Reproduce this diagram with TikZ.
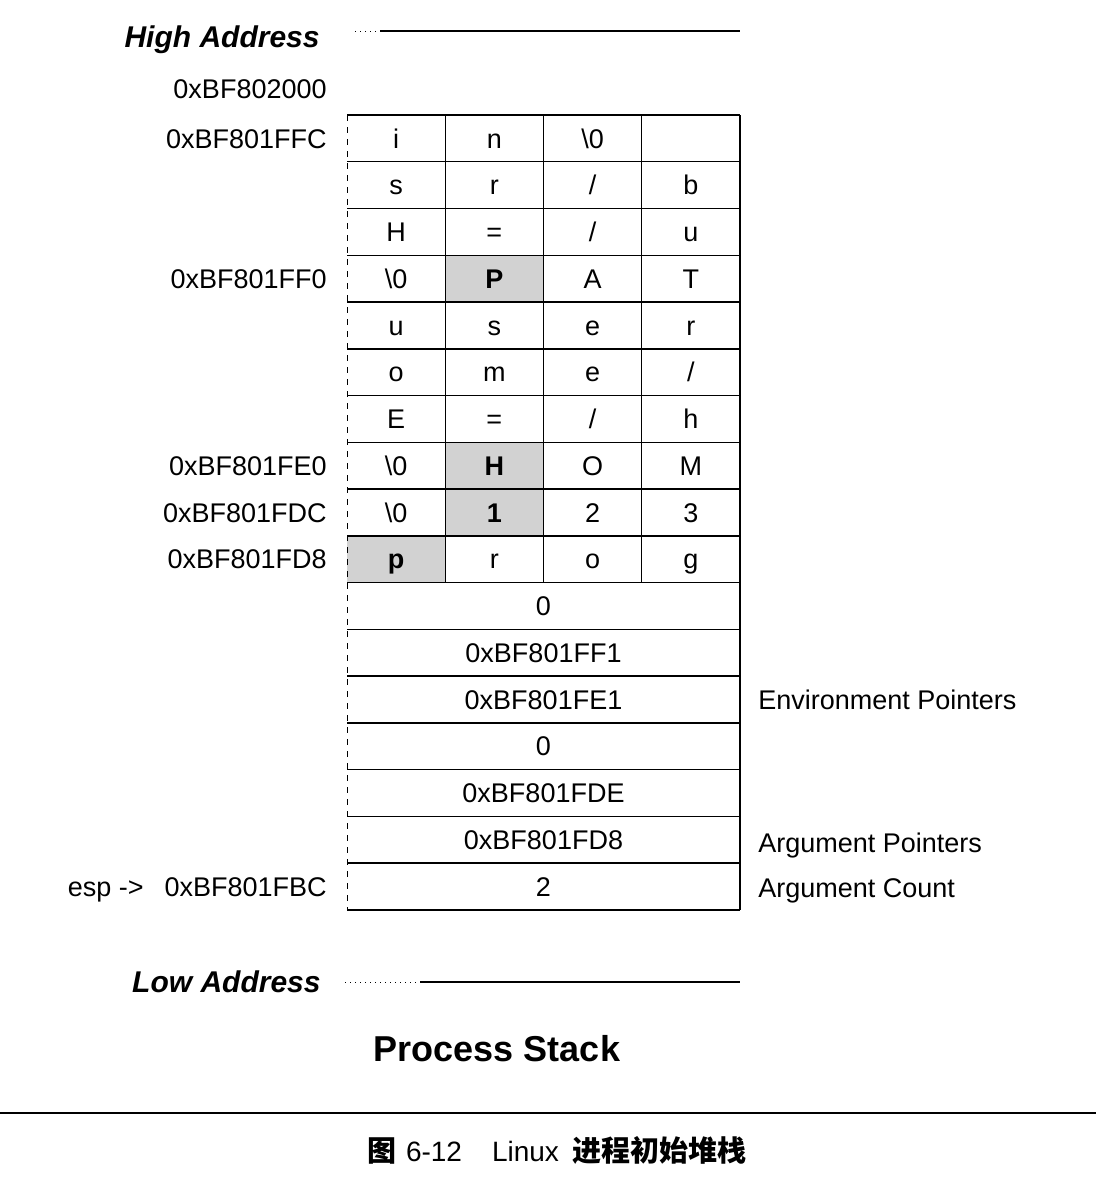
\documentclass[tikz,border=0pt]{standalone}
\usepackage{fontspec}
\setmainfont{Liberation Sans}
\newfontfamily\cjkfont{Noto Sans CJK SC}
\usetikzlibrary{calc,positioning}

\newcommand{\nul}{\textbackslash 0}
\newcommand{\cw}{98.25}
\newcommand{\rh}{46.76}

\begin{document}
\begin{tikzpicture}[x=0.5pt,y=-0.5pt,
    txt/.style={font=\fontsize{13.5}{16}\selectfont,inner sep=0pt,
                text height=9.7pt,text depth=0pt},
    byte/.style={txt},
    addr/.style={txt,anchor=east},
    note/.style={txt,anchor=west},
    bound/.style={font=\fontsize{15}{18}\selectfont\bfseries\itshape,
                  inner sep=0pt,anchor=east,text height=10.7pt,text depth=0pt},
    rule/.style={line width=0.7pt},
    hit/.style={fill=gray!35}]

  \useasboundingbox (0,0) rectangle (1096,1184);

  % shaded bytes
  \foreach \r/\c in {4/2,8/2,9/2,10/1}
    \fill[hit] ({347+\cw*(\c-1)},{115+\rh*(\r-1)}) rectangle ++(\cw,\rh);

  % grid
  \foreach \r in {0,...,17}
    \draw[rule] (347,{115+\rh*\r}) -- (740,{115+\rh*\r});
  \foreach \c in {1,2,3}
    \draw[rule] ({347+\cw*\c},115) -- ({347+\cw*\c},{115+10*\rh});
  \draw[rule] (740,115) -- (740,910);
  \draw[line width=0.4pt,dashed] (347,115) -- (347,910);

  % strings
  \foreach [count=\r] \row in {{i,n,\nul,{}},{s,r,/,b},{H,=,/,u},
      {\nul,\textbf{P},A,T},{u,s,e,r},{o,m,e,/},{E,=,/,h},
      {\nul,\textbf{H},O,M},{\nul,\textbf{1},2,3},{\textbf{p},r,o,g}}
    \foreach [count=\c] \ch in \row
      \node[byte] (b-\r-\c) at ({347+\cw*(\c-0.5)},{115+\rh*(\r-0.5)}) {\ch};

  % words
  \foreach [count=\i] \w in {0,0xBF801FF1,0xBF801FE1,0,0xBF801FDE,0xBF801FD8,2}
    \node[byte] (w-\i) at (543.5,{115+\rh*(\i+9.5)}) {\w};

  % addresses
  \node[addr] (a-top) at (327,89)  {0xBF802000};
  \node[addr] (a-ffc) at (327,{115+\rh*0.5}) {0xBF801FFC};
  \node[addr] (a-ff0) at (327,{115+\rh*3.5}) {0xBF801FF0};
  \node[addr] (a-fe0) at (327,{115+\rh*7.5}) {0xBF801FE0};
  \node[addr] (a-fdc) at (327,{115+\rh*8.5}) {0xBF801FDC};
  \node[addr] (a-fd8) at (327,{115+\rh*9.5}) {0xBF801FD8};
  \node[addr] (a-fbc) at (327,{115+\rh*16.5}) {0xBF801FBC};
  \node[addr,left=10pt of a-fbc] (esp) {esp ->};

  % notes
  \node[note] (env) at (758,{115+\rh*12.5}) {Environment Pointers};
  \node[note] (argv) at (758,{115+\rh*15.5+3}) {Argument Pointers};
  \node[note] (argc) at (758,{115+\rh*16.5+1}) {Argument Count};

  % high / low
  \node[bound] (high) at (320,37) {High Address};
  \coordinate (high-s) at (355,31);
  \coordinate (high-m) at (380,31);
  \coordinate (high-e) at (740,31);
  \draw[line width=0.5pt,dotted] (high-s) -- (high-m);
  \draw[line width=0.6pt] (high-m) -- (high-e);

  \node[bound] (low) at (321,982) {Low Address};
  \coordinate (low-s) at (345,982);
  \coordinate (low-m) at (420,982);
  \coordinate (low-e) at (740,982);
  \draw[line width=0.5pt,dotted] (low-s) -- (low-m);
  \draw[line width=0.6pt] (low-m) -- (low-e);

  \node[font=\fontsize{18}{22}\selectfont\bfseries] (title) at (497,1049) {Process Stack};

  % caption
  \draw[line width=1pt] (0,1113) -- (1096,1113);
  \node[font=\fontsize{14}{16}\selectfont] (cap) at (557,1150)
    {{\fontsize{14.5}{16}\cjkfont\bfseries 图}\hspace{5pt}6-12\hspace{15pt}Linux\hspace{7pt}{\fontsize{14.5}{16}\cjkfont\bfseries 进程初始堆栈}};

\end{tikzpicture}
\end{document}
